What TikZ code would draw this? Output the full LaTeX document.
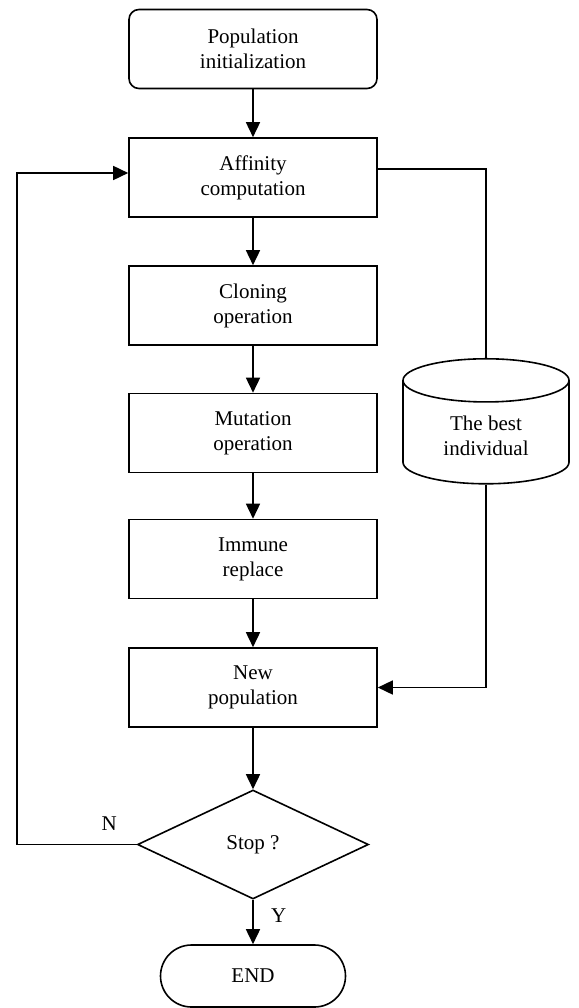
\documentclass[tikz,border=0pt]{standalone}
\usepackage{fontspec}
\setmainfont{Liberation Serif}
\usetikzlibrary{shapes.geometric, arrows.meta, positioning}

\begin{document}
\begin{tikzpicture}[
				x=1pt, y=-1pt,
				>={Triangle[length=15pt, width=14pt]},
				box/.style={draw, rectangle, minimum width=248pt, minimum height=79pt, line width=1.6pt, align=center, font=\fontsize{21}{25}\selectfont},
				startbox/.style={box, rounded corners=10pt},
				endbox/.style={box, rounded corners=31pt, minimum width=185pt, minimum height=62pt},
				decision/.style={draw, diamond, minimum width=231pt, minimum height=109pt, inner sep=0pt, line width=1.6pt, font=\fontsize{21}{25}\selectfont},
				store/.style={draw, cylinder, shape border rotate=90, aspect=0.47, minimum width=166pt, minimum height=125pt, line width=1.6pt, align=center, font=\fontsize{21}{25}\selectfont},
				arrow/.style={->, line width=1.6pt},
				tag/.style={font=\fontsize{21}{25}\selectfont}
				]
				\useasboundingbox (0,0) rectangle (578,1008);
				
				% Main column
				\node[startbox] (pop)  at (253,49)    {Population\\initialization};
				\node[box]      (aff)  at (253,177.5) {Affinity\\computation};
				\node[box]      (clo)  at (253,305.5) {Cloning\\operation};
				\node[box]      (mut)  at (253,433)   {Mutation\\operation};
				\node[box]      (imm)  at (253,559)   {Immune\\replace};
				\node[box]      (newp) at (253,687.5) {New\\population};
				\node[decision] (stop) at (253,844.5) {Stop ?};
				\node[endbox]   (end)  at (253,976)   {END};
				
				% Memory
				\node[store] (best) at (486,435.5) {The best\\individual};
				\coordinate (back) at (17,0);
				
				% Flow
				\draw[arrow] (pop) -- (aff);
				\draw[arrow] (aff) -- (clo);
				\draw[arrow] (clo) -- (mut);
				\draw[arrow] (mut) -- (imm);
				\draw[arrow] (imm) -- (newp);
				\draw[arrow] (newp) -- (stop);
				\draw[arrow] (stop) -- node[tag, pos=0.35, right=14pt] {Y} (end);
				
				% Loop back
				\draw[arrow] (stop.west) -- node[tag, pos=0.23, above=10pt] {N} (stop.west -| back) |- ([yshift=4.5pt]aff.west);
				
				% Best individual
				\draw[line width=1.6pt] ([yshift=8.5pt]aff.east) -| (best.north);
				\draw[arrow] (best.south) |- (newp.east);
				
			\end{tikzpicture}
\end{document}
